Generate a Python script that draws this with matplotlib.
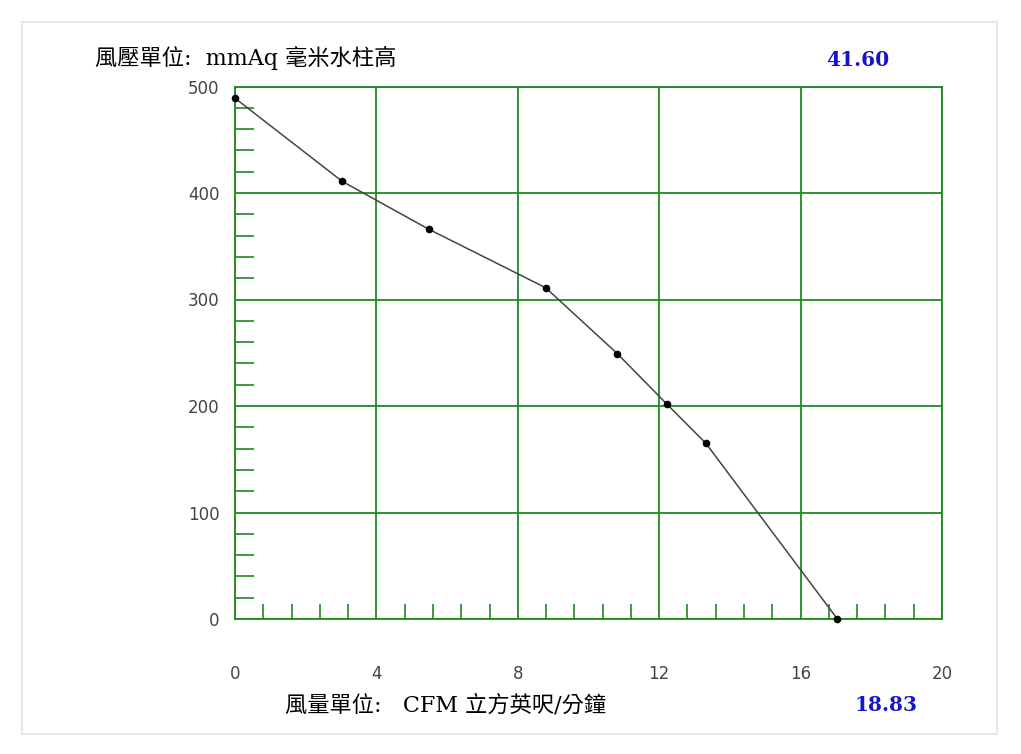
"""Fan P-Q curve: static pressure (mmAq) vs airflow (CFM)."""

import matplotlib

matplotlib.use("Agg")
import matplotlib.pyplot as plt
from matplotlib.patches import Rectangle
from matplotlib.ticker import MultipleLocator

plt.rcParams["font.family"] = ["DejaVu Serif", "Noto Sans CJK TC", "DejaVu Sans"]

GRID_GREEN = "#1f8a1f"
LINE_GRAY = "#444444"
TICK_GRAY = "#444444"
VALUE_BLUE = "#1414c8"

# values
airflow_cfm = [0.0, 3.03, 5.48, 8.79, 10.82, 12.21, 13.32, 17.04]
pressure_mmaq = [489, 411, 366, 311, 249, 202, 165, 0]

x_ticks = [0, 4, 8, 12, 16, 20]
y_ticks = [0, 100, 200, 300, 400, 500]

pressure_title = "風壓單位:  mmAq 毫米水柱高"
airflow_title = "風量單位:   CFM 立方英呎/分鐘"
max_pressure_label = "41.60"
max_airflow_label = "18.83"

fig = plt.figure(figsize=(10.21, 7.54), dpi=100)

# faint frame around the panel
fig.patches.append(
    Rectangle(
        (22 / 1021, 1 - 734 / 754),
        975 / 1021,
        712 / 754,
        transform=fig.transFigure,
        fill=False,
        edgecolor="#e6e6e6",
        linewidth=1.5,
    )
)

ax = fig.add_axes([235 / 1021, 1 - 619 / 754, 707 / 1021, 532.5 / 754])
ax.set_xlim(x_ticks[0], x_ticks[-1])
ax.set_ylim(y_ticks[0], y_ticks[-1])

ax.plot(
    airflow_cfm,
    pressure_mmaq,
    color=LINE_GRAY,
    linewidth=1.1,
    marker="o",
    markersize=4.5,
    markerfacecolor="black",
    markeredgecolor="black",
    clip_on=False,
    zorder=5,
)

ax.set_xticks(x_ticks)
ax.set_yticks(y_ticks)
ax.xaxis.set_minor_locator(MultipleLocator(0.8))
ax.yaxis.set_minor_locator(MultipleLocator(20))
ax.grid(which="major", color=GRID_GREEN, linewidth=1.3)
ax.set_axisbelow(True)
for spine in ax.spines.values():
    spine.set_color(GRID_GREEN)
    spine.set_linewidth(1.3)

ax.tick_params(axis="both", which="major", length=0, labelcolor=TICK_GRAY, labelsize=12)
ax.tick_params(axis="x", which="major", pad=33)
ax.tick_params(axis="y", which="major", pad=11)
ax.tick_params(axis="x", which="minor", direction="in", length=11, width=1.2, color=GRID_GREEN)
ax.tick_params(axis="y", which="minor", direction="in", length=14, width=1.2, color=GRID_GREEN)
for lab in ax.get_xticklabels() + ax.get_yticklabels():
    lab.set_family(["DejaVu Sans"])

fig.text(95 / 1021, 1 - 58 / 754, pressure_title, ha="left", va="center", fontsize=16)
fig.text(285 / 1021, 1 - 705 / 754, airflow_title, ha="left", va="center", fontsize=16)
fig.text(
    858 / 1021,
    1 - 60 / 754,
    max_pressure_label,
    ha="center",
    va="center",
    fontsize=14.5,
    fontweight="bold",
    color=VALUE_BLUE,
)
fig.text(
    886 / 1021,
    1 - 705 / 754,
    max_airflow_label,
    ha="center",
    va="center",
    fontsize=14.5,
    fontweight="bold",
    color=VALUE_BLUE,
)

fig.savefig("out.png", dpi=100)
